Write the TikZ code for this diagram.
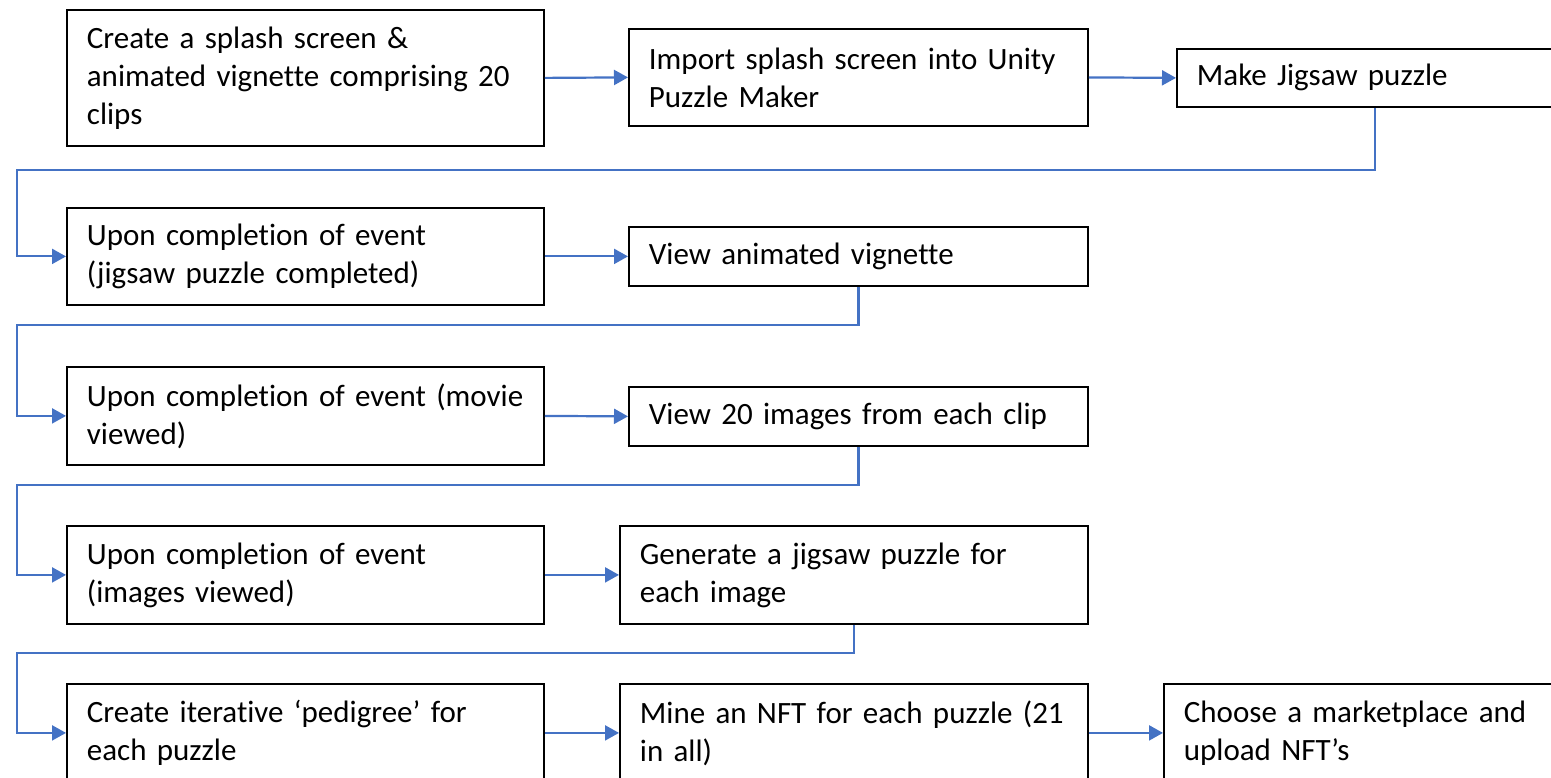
\documentclass[tikz,border=0pt]{standalone}
\usepackage{xcolor}
\usepackage{fontspec}
\setmainfont[Ligatures={NoCommon,NoContextual}]{Carlito}
\usepackage{tikz}
\usetikzlibrary{arrows.meta}

\definecolor{flowblue}{HTML}{4472C4}

\begin{document}
\begin{tikzpicture}[x=1pt, y=-1pt,
		stepbox/.style={draw, line width=1.8pt, anchor=north west, align=left,
			inner xsep=20pt, inner ysep=0pt, font=\fontsize{31}{38}\selectfont},
		flow/.style={flowblue, line width=2.2pt, -{Triangle[length=14pt, width=15pt]}}]
			\useasboundingbox (0,0) rectangle (1551,778);
			\clip (0,0) rectangle (1551,778);
			
			\node [stepbox, text width=437pt, minimum height=136pt] (splash) at (66,9)
				{Create a splash screen \&\\animated vignette comprising 20\\clips};
			\node [stepbox, text width=419pt, minimum height=97pt] (import) at (628,28)
				{Import splash screen into Unity\\Puzzle Maker};
			\node [stepbox, text width=356pt, minimum height=58pt] (jigsaw) at (1176,48)
				{Make Jigsaw puzzle};
			
			\node [stepbox, text width=437pt, minimum height=97pt] (done1) at (66,207)
				{Upon completion of event\\(jigsaw puzzle completed)};
			\node [stepbox, text width=419pt, minimum height=59pt] (vignette) at (628,226)
				{View animated vignette};
			
			\node [stepbox, text width=437pt, minimum height=98pt] (done2) at (66,366)
				{Upon completion of event (movie\\viewed)};
			\node [stepbox, text width=419pt, minimum height=59pt] (images) at (628,386)
				{View 20 images from each clip};
			
			\node [stepbox, text width=437pt, minimum height=98pt] (done3) at (66,525)
				{Upon completion of event\\(images viewed)};
			\node [stepbox, text width=428pt, minimum height=98pt] (generate) at (619,525)
				{Generate a jigsaw puzzle for\\each image};
			
			\node [stepbox, text width=437pt, minimum height=98pt] (pedigree) at (66,683)
				{Create iterative ‘pedigree’ for\\each puzzle};
			\node [stepbox, text width=428pt, minimum height=98pt] (mine) at (619,683)
				{Mine an NFT for each puzzle (21\\in all)};
			\node [stepbox, text width=356pt, minimum height=98pt] (market) at (1163,683)
				{Choose a marketplace and\\upload NFT’s};
			
			% corners of the return lines on the left
			\coordinate (turn1) at (17,170);
			\coordinate (turn2) at (17,325);
			\coordinate (turn3) at (17,485);
			\coordinate (turn4) at (17,653);
			
			\begin{scope}[flow]
				\draw (splash.east) -- (import.west);
				\draw (import.east) -- (jigsaw.west);
				\draw (jigsaw.south) |- (turn1) |- (done1.west);
				\draw (done1.east) -- (vignette.west);
				\draw (vignette.south) |- (turn2) |- (done2.west);
				\draw (done2.east) -- (images.west);
				\draw (images.south) |- (turn3) |- (done3.west);
				\draw (done3.east) -- (generate.west);
				\draw (generate.south) |- (turn4) |- (pedigree.west);
				\draw (pedigree.east) -- (mine.west);
				\draw (mine.east) -- (market.west);
			\end{scope}
		\end{tikzpicture}
\end{document}
